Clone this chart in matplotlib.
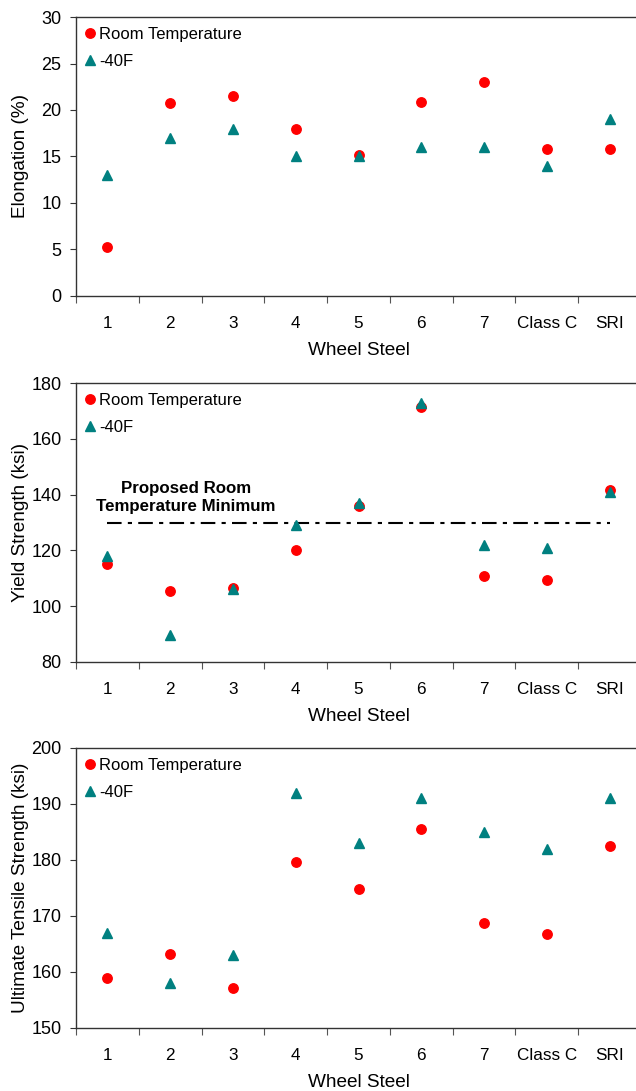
import matplotlib
matplotlib.use("Agg")
import matplotlib.pyplot as plt

plt.rcParams['font.family'] = ['Liberation Sans', 'DejaVu Sans']

steels = ['1', '2', '3', '4', '5', '6', '7', 'Class C', 'SRI']

elong_room = [5.3, 20.8, 21.5, 18.0, 15.2, 20.9, 23.0, 15.8, 15.8]
elong_cold = [13, 17, 18, 15, 15, 16, 16, 14, 19]

yield_room = [115.1, 105.3, 106.5, 120.0, 135.8, 171.3, 110.7, 109.3, 141.6]
yield_cold = [118, 89.5, 106, 129, 137, 173, 122, 121, 141]
yield_min = 130

uts_room = [159.0, 163.2, 157.2, 179.6, 174.9, 185.6, 168.8, 166.8, 182.5]
uts_cold = [167, 158, 163, 192, 183, 191, 185, 182, 191]

W, H = 636, 1091
fig = plt.figure(figsize=(W / 100, H / 100), dpi=100)

left, right = 76, 641
panels = [
    (17, 296, elong_room, elong_cold, (0, 30), 5, 'Elongation (%)'),
    (383, 662, yield_room, yield_cold, (80, 180), 20, 'Yield Strength (ksi)'),
    (748, 1028, uts_room, uts_cold, (150, 200), 10, 'Ultimate Tensile Strength (ksi)'),
]

x = list(range(1, len(steels) + 1))
teal = '#008080'

for i, (top, bot, room, cold, ylim, step, ylabel) in enumerate(panels):
    ax = fig.add_axes([left / W, 1 - bot / H, (right - left) / W, (bot - top) / H])
    ax.plot(x, room, 'o', color='red', markersize=6.8, label='Room Temperature', zorder=3)
    ax.plot(x, cold, '^', color=teal, markersize=6.8, label='-40F', zorder=4)

    ax.set_xlim(0.5, len(steels) + 0.5)
    ax.set_ylim(*ylim)
    ax.set_yticks(range(ylim[0], ylim[1] + 1, step))

    # ticks between categories, labels at category centres
    ax.set_xticks([k + 0.5 for k in range(0, len(steels) + 1)])
    ax.set_xticklabels([])
    ax.set_xticks(x, minor=True)
    ax.set_xticklabels(steels, minor=True)
    ax.tick_params(axis='x', which='major', length=5, color='#555555', width=0.8)
    ax.tick_params(axis='x', which='minor', length=0, pad=14.5, labelsize=12.3)
    ax.tick_params(axis='y', length=4.5, width=0.8, color='#333333', labelsize=13, pad=6)

    for s in ['left', 'bottom', 'top']:
        ax.spines[s].set_color('#333333')
        ax.spines[s].set_linewidth(1.0)
    ax.spines['right'].set_visible(False)

    ax.set_xlabel('Wheel Steel', fontsize=13.7, labelpad=7.5)
    ax.set_ylabel(ylabel, fontsize=13.7)
    ax.yaxis.set_label_coords(-0.083, 0.5)

    ax.legend(loc='upper left', bbox_to_anchor=(-0.018, 1.005), frameon=False,
              fontsize=12, handletextpad=-0.2, labelspacing=0.68,
              borderaxespad=0.3, handlelength=1.5)

    if i == 1:
        ax.plot([x[0], x[-1]], [yield_min, yield_min], color='black', linewidth=1.5,
                dashes=(7, 3, 2, 3), zorder=2)
        ax.text(2.25, 139.1, 'Proposed Room\nTemperature Minimum', ha='center', va='center',
                fontsize=12.2, fontweight='bold', linespacing=1.25)

fig.savefig('out.png', dpi=100)
